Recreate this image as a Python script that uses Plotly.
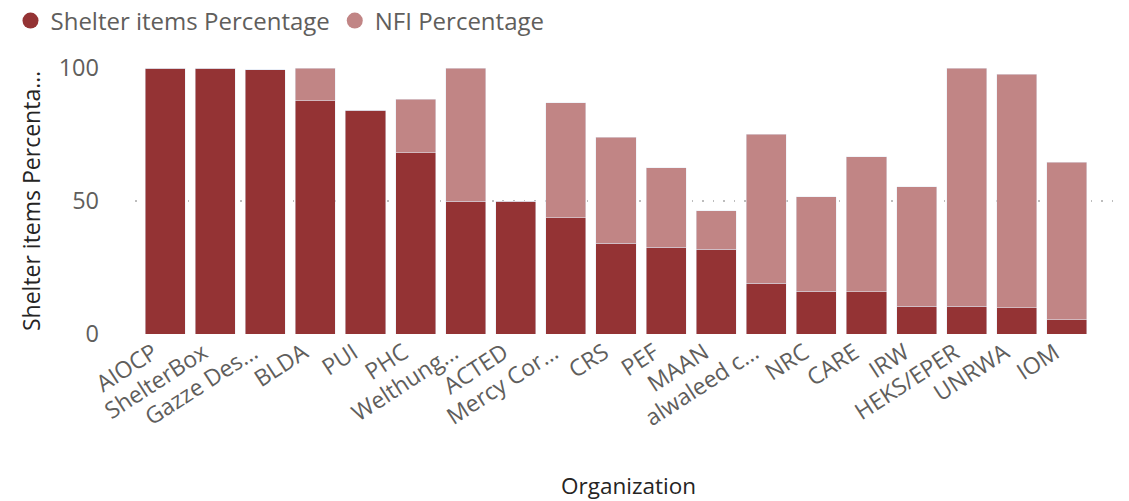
import plotly.graph_objects as go

organizations = [
    "AIOCP", "ShelterBox", "Gazze Des…", "BLDA", "PUI", "PHC", "Welthung…",
    "ACTED", "Mercy Cor…", "CRS", "PEF", "MAAN", "alwaleed c…", "NRC",
    "CARE", "IRW", "HEKS/EPER", "UNRWA", "IOM",
]
shelter_pct = [100, 100, 99.3, 87.6, 84.1, 68.2, 50, 50, 43.7, 34.2,
               32.7, 31.8, 19.0, 16.1, 15.8, 10.5, 10.4, 9.9, 5.3]
nfi_pct = [0, 0, 0, 12.4, 0, 20.0, 50, 0, 43.2, 39.7,
           29.8, 14.5, 56.1, 35.5, 50.8, 44.8, 89.6, 87.7, 59.3]

dark = "#943334"
light = "#C18585"
font = "Open Sans"

W, H = 1129, 501

fig = go.Figure()
fig.add_trace(go.Bar(x=organizations, y=shelter_pct, name="Shelter items Percentage",
                     marker_color=dark, showlegend=False))
fig.add_trace(go.Bar(x=organizations, y=nfi_pct, name="NFI Percentage",
                     marker_color=light, showlegend=False))

# round legend markers like the original
for name, col in [("Shelter items Percentage", dark), ("NFI Percentage", light)]:
    fig.add_trace(go.Scatter(x=[None], y=[None], mode="markers", name=name,
                             marker=dict(symbol="circle", size=21, color=col)))

fig.update_layout(
    width=W,
    height=H,
    barmode="stack",
    bargap=0.2,
    plot_bgcolor="white",
    paper_bgcolor="white",
    font=dict(family=font, color="#605E5C"),
    margin=dict(l=135, r=7, t=68, b=167, autoexpand=False),
    legend=dict(
        orientation="h", x=0.0093, y=1 - 21 / H, xref="container", yref="container",
        xanchor="left", yanchor="middle", traceorder="normal",
        font=dict(size=24, color="#605E5C"),
        itemwidth=30, tracegroupgap=0,
    ),
)

fig.update_xaxes(
    range=[-0.6, 19.1],
    tickangle=-33,
    ticklabelshift=-12,
    tickfont=dict(size=23, color="#605E5C"),
    title=dict(text="Organization", font=dict(size=22.5, color="#252423"), standoff=48),
    showgrid=False,
    showline=False,
)
fig.update_yaxes(
    range=[0, 100],
    tickvals=[0, 50, 100],
    tickfont=dict(size=23.5, color="#605E5C"),
    ticklabelstandoff=35,
    title=dict(text="Shelter items Percenta…", font=dict(size=23, color="#252423"), standoff=11),
    showgrid=True,
    gridcolor="#BDBDBD",
    griddash="1.5px,9px",
    gridwidth=2,
    zeroline=False,
    showline=False,
)

# drop the browser's default body margin so the figure fills the window
fig.write_html("out.html", config={"displayModeBar": False},
               post_script="document.body.style.margin='0';")
